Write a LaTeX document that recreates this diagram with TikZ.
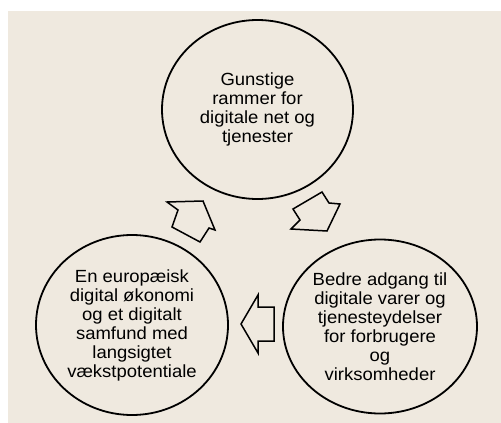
\documentclass[tikz,border=0pt]{standalone}
\usepackage{fontspec}
\setmainfont[FakeStretch=1.05]{Liberation Sans}
\usetikzlibrary{shapes.geometric}
\definecolor{bg}{HTML}{EFE9DF}
\begin{document}
\begin{tikzpicture}[x=1pt,y=-1pt,
  circ/.style={ellipse, draw=black, line width=1.8pt, inner sep=0pt, align=center,
    font=\fontsize{17.6}{19}\selectfont},
  blockarrow/.style={draw=black, line width=1.5pt, line join=miter}]
\useasboundingbox (0,0) rectangle (501,423);
\fill[bg] (8,11) rectangle (501,423);
\node[circ, minimum width=191pt, minimum height=179pt] (top) at (257.5,109.5)
  {Gunstige\\rammer for\\digitale net og\\tjenester};
\node[circ, minimum width=192pt, minimum height=180pt] (left) at (132,325)
  {En europæisk\\digital økonomi\\og et digitalt\\samfund med\\langsigtet\\vækstpotentiale};
\node[circ, minimum width=194pt, minimum height=174pt] (right) at (380,326.5)
  {Bedre adgang til\\digitale varer og\\tjenesteydelser\\for forbrugere\\og\\virksomheder};
% block arrows
\draw[blockarrow] (167,202) -- (203,201) -- (215,230) -- (209,228) -- (200,242)
  -- (172,227) -- (178,210) -- cycle;
\draw[blockarrow] (293,209) -- (322,192) -- (329,203) -- (340,204) -- (327,231)
  -- (291,229) -- (300,220) -- cycle;
\draw[blockarrow] (241,324) -- (258,295) -- (258,307) -- (274,307) -- (274,341)
  -- (258,341) -- (258,353) -- cycle;
\end{tikzpicture}
\end{document}
